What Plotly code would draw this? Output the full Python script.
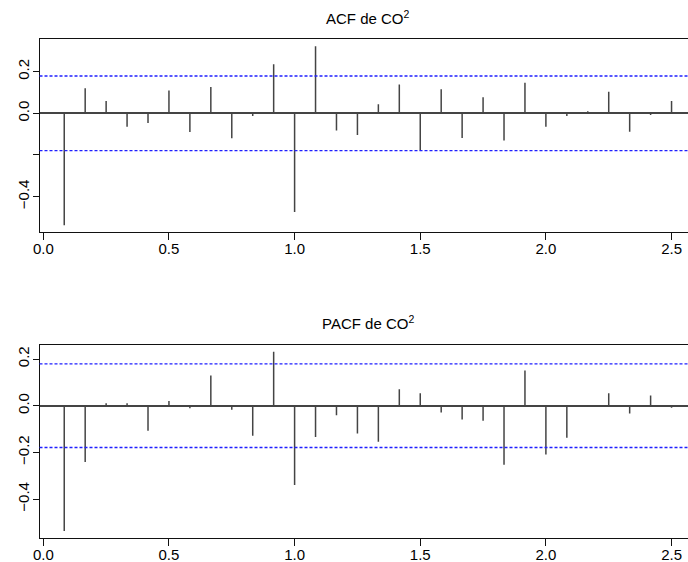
import plotly.graph_objects as go

# Lags in years (monthly series, 30 lags)
lags = [k / 12 for k in range(1, 31)]

acf_vals = [-0.538, 0.120, 0.059, -0.064, -0.046, 0.109, -0.090, 0.126, -0.120, -0.013,
            0.235, -0.474, 0.322, -0.083, -0.104, 0.043, 0.138, -0.179, 0.115, -0.118,
            0.077, -0.131, 0.147, -0.064, -0.013, 0.010, 0.104, -0.088, -0.008, 0.059]

pacf_vals = [-0.537, -0.241, 0.011, 0.011, -0.107, 0.020, -0.011, 0.129, -0.017, -0.129,
             0.231, -0.340, -0.134, -0.041, -0.119, -0.154, 0.071, 0.053, -0.029, -0.059,
             -0.064, -0.253, 0.151, -0.209, -0.137, -0.004, 0.053, -0.033, 0.044, -0.009]

ci = 0.179  # 1.96 / sqrt(n)

x_ticks = [0.0, 0.5, 1.0, 1.5, 2.0, 2.5]
x_tick_labels = ["0.0", "0.5", "1.0", "1.5", "2.0", "2.5"]
y_ticks = [-0.4, -0.2, 0.0, 0.2]
acf_y_labels = ["\u22120.4", " ", "0.0", "0.2"]
pacf_y_labels = ["\u22120.4", "\u22120.2", "0.0", "0.2"]

titles = ["ACF de CO<sup>2</sup>", "PACF de CO<sup>2</sup>"]

W, H = 688, 562
FONT = "Liberation Sans, Arial, Helvetica, sans-serif"
BAR_COLOR = "#444444"
BOX_COLOR = "#111111"
CI_COLOR = "#1f1fff"


def spikes(xs, ys):
    sx, sy = [], []
    for a, b in zip(xs, ys):
        sx += [a, a, None]
        sy += [0, b, None]
    return sx, sy


fig = go.Figure()

# panel geometry in pixels: (top, bottom) of the plot box and y range
left_px = 39.5
x_range = [(left_px - 43.3) / 251.3, (W - 43.3) / 251.3]
panels = [
    dict(vals=acf_vals, top=39.3, bottom=232.3, yrange=[-0.5713, 0.3553],
         ylabels=acf_y_labels, title_y=17.5),
    dict(vals=pacf_vals, top=345.0, bottom=537.7, yrange=[-0.5653, 0.2600],
         ylabels=pacf_y_labels, title_y=322.5),
]

layout_axes = {}
for i, p in enumerate(panels, start=1):
    xa = "x" if i == 1 else f"x{i}"
    ya = "y" if i == 1 else f"y{i}"
    sx, sy = spikes(lags, p["vals"])
    fig.add_trace(go.Scatter(x=sx, y=sy, mode="lines",
                             line=dict(color=BAR_COLOR, width=1.5),
                             xaxis=xa, yaxis=ya, showlegend=False, hoverinfo="skip"))
    dom = [1 - p["bottom"] / H, 1 - p["top"] / H]
    xkey = "xaxis" if i == 1 else f"xaxis{i}"
    ykey = "yaxis" if i == 1 else f"yaxis{i}"
    layout_axes[xkey] = dict(
        domain=[left_px / W, 1.0], range=x_range, anchor=ya,
        tickmode="array", tickvals=x_ticks, ticktext=x_tick_labels,
        ticks="outside", ticklen=7, tickwidth=1, tickcolor=BOX_COLOR,
        ticklabelstandoff=-4, automargin=False,
        showline=True, linecolor=BOX_COLOR, linewidth=1, mirror=True,
        showgrid=False, zeroline=False,
        tickfont=dict(family=FONT, size=15, color="#000"),
    )
    layout_axes[ykey] = dict(
        domain=dom, range=p["yrange"], anchor=xa,
        tickmode="array", tickvals=y_ticks, ticktext=p["ylabels"],
        ticks="outside", ticklen=6, tickwidth=1, tickcolor=BOX_COLOR,
        tickangle=-90, ticklabelstandoff=-2, automargin=False,
        showline=True, linecolor=BOX_COLOR, linewidth=1, mirror=False,
        showgrid=False,
        zeroline=True, zerolinecolor=BAR_COLOR, zerolinewidth=1.5,
        tickfont=dict(family=FONT, size=15, color="#000"),
    )
    for s in (ci, -ci):
        fig.add_shape(type="line", xref=f"{xa} domain", yref=ya,
                      x0=0, x1=1, y0=s, y1=s,
                      line=dict(color=CI_COLOR, width=1.3, dash="3px,2px"))
    fig.add_annotation(text=titles[i - 1], xref="paper", yref="paper",
                       x=368 / W, y=1 - p["title_y"] / H,
                       xanchor="center", yanchor="middle", showarrow=False,
                       font=dict(family=FONT, size=15, color="#000"))

fig.update_layout(
    width=W, height=H,
    margin=dict(l=0, r=0, t=0, b=0),
    paper_bgcolor="white", plot_bgcolor="white",
    showlegend=False,
    **layout_axes,
)

fig.write_html("out.html")
